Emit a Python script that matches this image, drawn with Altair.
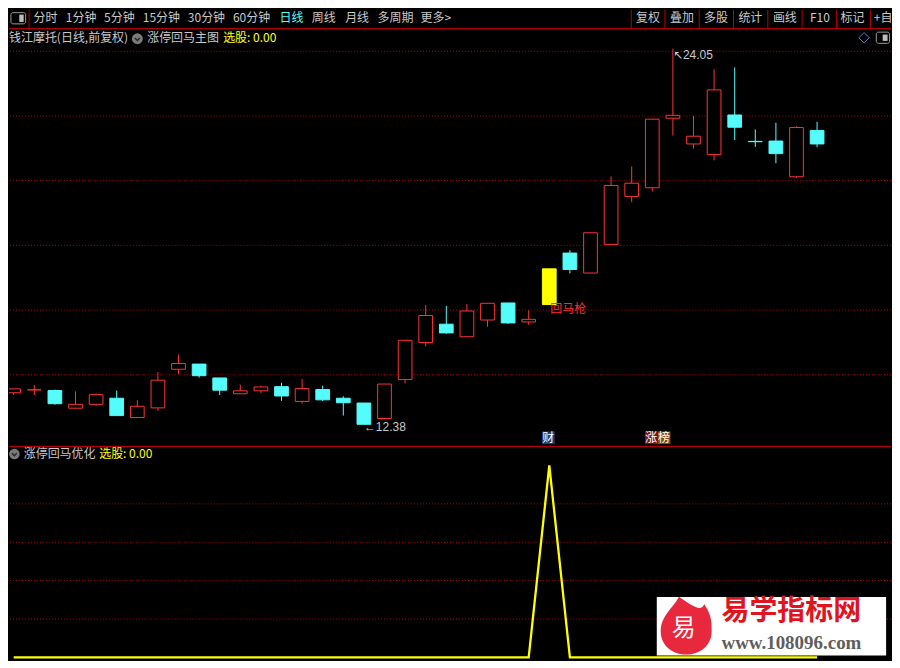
import altair as alt
import pandas as pd

# ---------------- data ----------------
opens  = [13.36, 13.45, 13.43, 12.88, 13.00, 13.19, 12.59, 12.89, 14.09, 14.25,
          13.82, 13.33, 13.42, 13.55, 13.09, 13.46, 13.19, 13.04, 12.56, 13.77,
          14.92, 15.49, 15.10, 15.62, 16.15, 15.56, 16.10, 17.70, 17.08, 17.97,
          19.46, 19.73, 21.89, 21.09, 20.76, 21.99, 21.17, 21.18, 20.07, 21.51]
highs  = [13.48, 13.60, 13.46, 13.40, 13.34, 13.43, 13.13, 14.00, 14.55, 14.25,
          13.82, 13.61, 13.58, 13.67, 13.79, 13.58, 13.25, 13.04, 13.63, 14.99,
          16.09, 16.06, 16.12, 16.14, 16.15, 15.92, 17.21, 17.79, 18.33, 20.08,
          20.39, 21.86, 24.05, 21.96, 23.41, 23.47, 21.54, 21.75, 21.64, 21.78]
lows   = [13.29, 13.29, 12.99, 12.88, 12.95, 12.65, 12.59, 12.80, 13.95, 13.83,
          13.29, 13.33, 13.35, 13.11, 13.02, 13.10, 12.65, 12.38, 12.56, 13.65,
          14.80, 15.19, 15.10, 15.41, 15.50, 15.47, 16.10, 17.07, 17.08, 17.97,
          19.28, 19.61, 21.35, 20.94, 20.58, 21.21, 21.00, 20.49, 20.03, 20.99]
closes = [13.48, 13.45, 13.02, 13.00, 13.30, 12.65, 12.94, 13.75, 14.27, 13.89,
          13.44, 13.42, 13.54, 13.26, 13.49, 13.14, 13.05, 12.38, 13.63, 14.99,
          15.76, 15.22, 15.90, 16.14, 15.53, 15.64, 17.21, 17.19, 18.33, 19.80,
          19.87, 21.86, 21.98, 21.33, 22.77, 21.61, 21.16, 20.79, 21.60, 21.09]
signal = [0, 0, 0, 0, 0, 0, 0, 0, 0, 0,
          0, 0, 0, 0, 0, 0, 0, 0, 0, 0,
          0, 0, 0, 0, 0, 0, 1, 0, 0, 0,
          0, 0, 0, 0, 0, 0, 0, 0, 0, 0]
price_grid = [23.97, 21.96, 19.95, 17.94, 15.93, 13.92]
ind_grid = [0.2, 0.4, 0.6, 0.8]

menu_labels = ["分时", "1分钟", "5分钟", "15分钟", "30分钟", "60分钟", "日线", "周线", "月线", "多周期", "更多>"]
menu_x = [25, 58, 97, 136.5, 182.5, 228.5, 276, 309, 343, 376, 420]
right_labels = ["复权", "叠加", "多股", "统计", "画线", "F10", "标记", "+自"]
right_x = [652, 686.8, 721.3, 756.5, 791.7, 827.5, 860.8, 892]
right_seps = [635, 669.3, 704.3, 739.3, 774.3, 809.3, 844.3, 879]

tag_i = [26, 31, 31]
tag_ch = ["财", "涨", "榜"]
tag_k = [0, 0, 1]
tag_bg = ["#1B3F78", "#7E1010", "#8A4A16"]

# ---------------- geometry ----------------
W, H = 884, 652
SX, SY = W / 900, H / 668
HA = round(20 * SY)
HB = round(447.5 * SY) - HA
HC = H - HA - HB
TOP_B = HA / SY
TOP_C = (HA + HB) / SY

def px(x): return x * SX
def pyA(y): return y * SY
def pyB(y): return y * SY - HA
def pyC(y): return y * SY - HA - HB

X0, STEP = 4.8, 21.02          # pixel of first candle, candle spacing (reference px)
xs = alt.Scale(domain=[(0 - X0) / STEP, (900 - X0) / STEP], nice=False, zero=False)
P_REF, P_PX, PPU = 24.05, 40.0, 33.05   # price calibration of the reference
ys = alt.Scale(domain=[P_REF - (TOP_C - P_PX) / PPU, P_REF + (P_PX - TOP_B) / PPU], nice=False, zero=False)
V_BASE, V_PPU = 665.0, 197.0
ys2 = alt.Scale(domain=[(V_BASE - 668) / V_PPU, (V_BASE - TOP_C) / V_PPU], nice=False, zero=False)
HALF = 7.0 / STEP

FONT = "Noto Sans CJK SC"
GRAY = "#C8C8C8"
RED = "#FF3232"
CYAN = "#54FCFC"
YEL = "#FFFF00"
GRID = "#B80000"
SEP = "#B40000"

one = pd.DataFrame({"z": [0]})

def txt(t, x, y, color=GRAY, size=12, align="left", font=FONT, weight="normal"):
    return alt.Chart(one).mark_text(text=t, align=align, baseline="middle", font=font,
                                    fontSize=size, fontWeight=weight, color=color, clip=True
                                    ).encode(x=alt.value(x), y=alt.value(y))

def box(x1, y1, x2, y2, fill=None, stroke=None, r=0, sw=1):
    kw = dict(cornerRadius=r)
    if fill:
        kw["fill"] = fill
    else:
        kw["fillOpacity"] = 0
    if stroke:
        kw["stroke"] = stroke
        kw["strokeWidth"] = sw
    return alt.Chart(one).mark_rect(**kw).encode(
        x=alt.value(x1), x2=alt.value(x2), y=alt.value(y1), y2=alt.value(y2))

def rule(x1, y1, x2, y2, color=SEP, sw=1):
    return alt.Chart(one).mark_rule(color=color, strokeWidth=sw).encode(
        x=alt.value(x1), x2=alt.value(x2), y=alt.value(y1), y2=alt.value(y2))

def sym(x, y, shape, size, fill=None, stroke=None, sw=1):
    kw = dict(shape=shape, size=size)
    if fill:
        kw.update(filled=True, fill=fill, opacity=1)
    else:
        kw.update(filled=False, stroke=stroke, strokeWidth=sw, opacity=1)
    return alt.Chart(one).mark_point(**kw).encode(x=alt.value(x), y=alt.value(y))

# ---------------- panel A: toolbar ----------------
menu_df = pd.DataFrame({"t": menu_labels, "x": menu_x,
                        "c": [CYAN if t == "日线" else GRAY for t in menu_labels]})
right_df = pd.DataFrame({"t": right_labels, "x": right_x})
sep_df = pd.DataFrame({"x": right_seps})
chrome_x = alt.Scale(domain=[0, 900], nice=False, zero=False)

menu = alt.Chart(menu_df).mark_text(align="left", baseline="middle", font=FONT, fontSize=12, clip=True).encode(
    x=alt.X("x:Q", scale=chrome_x, axis=None), y=alt.value(pyA(9)), text="t:N",
    color=alt.Color("c:N", scale=None))
rmenu = alt.Chart(right_df).mark_text(align="center", baseline="middle", font=FONT, fontSize=12,
                                      color=GRAY, clip=True).encode(
    x=alt.X("x:Q", scale=chrome_x, axis=None), y=alt.value(pyA(9)), text="t:N")
seps = alt.Chart(sep_df).mark_rule(color=SEP, strokeWidth=1).encode(
    x=alt.X("x:Q", scale=chrome_x, axis=None), y=alt.value(0), y2=alt.value(pyA(19)))

panelA = alt.layer(
    box(px(2), pyA(3), px(17), pyA(14.5), stroke="#9A9A9A", r=2),
    box(px(10.5), pyA(5), px(15), pyA(12.5), fill="#BEBEBE"),
    rule(px(20.5), 0, px(20.5), pyA(19)),
    rule(0, pyA(19.3), W, pyA(19.3), sw=1.2),
    menu, rmenu, seps,
).properties(width=W, height=HA)

# ---------------- panel B: candles ----------------
df = pd.DataFrame({"i": list(range(len(opens))), "o": opens, "h": highs, "l": lows, "c": closes, "s": signal})
df["kind"] = ["sig" if s == 1 else ("up" if c >= o else "down") for o, c, s in zip(opens, closes, signal)]
fill_scale = alt.Scale(domain=["up", "down", "sig"], range=["#000000", CYAN, YEL])
stroke_scale = alt.Scale(domain=["up", "down", "sig"], range=[RED, CYAN, YEL])

grid = alt.Chart(pd.DataFrame({"p": price_grid})).mark_rule(color=GRID, strokeDash=[1, 2], strokeWidth=1).encode(
    y=alt.Y("p:Q", scale=ys, axis=None))

wick = alt.Chart(df).mark_rule(strokeWidth=1, clip=True).encode(
    x=alt.X("i:Q", scale=xs, axis=None), y=alt.Y("l:Q", scale=ys, axis=None), y2="h:Q",
    stroke=alt.Stroke("kind:N", scale=stroke_scale, legend=None))
body = alt.Chart(df).transform_calculate(
    xl=f"datum.i - {HALF}", xr=f"datum.i + {HALF}"
).mark_rect(strokeWidth=1, clip=True).encode(
    x=alt.X("xl:Q", scale=xs, axis=None), x2="xr:Q",
    y=alt.Y("o:Q", scale=ys, axis=None), y2="c:Q",
    fill=alt.Fill("kind:N", scale=fill_scale, legend=None),
    stroke=alt.Stroke("kind:N", scale=stroke_scale, legend=None))

imax = highs.index(max(highs))
imin = lows.index(min(lows))
hi_lab = alt.Chart(pd.DataFrame({"i": [imax], "p": [highs[imax]], "t": ["↖" + f"{highs[imax]:.2f}"]})).mark_text(
    align="left", baseline="middle", dy=6, font="Liberation Sans, DejaVu Sans", fontSize=12, color=GRAY).encode(
    x=alt.X("i:Q", scale=xs, axis=None), y=alt.Y("p:Q", scale=ys, axis=None), text="t:N")
lo_lab = alt.Chart(pd.DataFrame({"i": [imin], "p": [lows[imin]], "t": ["←" + f"{lows[imin]:.2f}"]})).mark_text(
    align="left", baseline="middle", dy=3, font="Liberation Sans, DejaVu Sans", fontSize=12, color=GRAY).encode(
    x=alt.X("i:Q", scale=xs, axis=None), y=alt.Y("p:Q", scale=ys, axis=None), text="t:N")

sig_i = signal.index(1)
sig_lab = alt.Chart(pd.DataFrame({"i": [sig_i], "p": [opens[sig_i]], "t": ["回马枪"]})).mark_text(
    align="left", baseline="top", dx=1, dy=-1, font=FONT, fontSize=12, color="#FF2A2A").encode(
    x=alt.X("i:Q", scale=xs, axis=None), y=alt.Y("p:Q", scale=ys, axis=None), text="t:N")

tag_df = pd.DataFrame({"i": tag_i, "ch": tag_ch, "k": tag_k, "bg": tag_bg})
tag_calc = dict(tx1=f"datum.i - {7.5 / STEP} + datum.k * {13 / STEP}",
                tx2=f"datum.i - {7.5 / STEP} + datum.k * {13 / STEP} + {13 / STEP}",
                tc=f"datum.i - {7.5 / STEP} + datum.k * {13 / STEP} + {6.5 / STEP}")
tag_box = alt.Chart(tag_df).transform_calculate(**tag_calc).mark_rect().encode(
    x=alt.X("tx1:Q", scale=xs, axis=None), x2="tx2:Q",
    y=alt.value(pyB(433)), y2=alt.value(pyB(446)), fill=alt.Fill("bg:N", scale=None))
tag_txt = alt.Chart(tag_df).transform_calculate(**tag_calc).mark_text(
    align="center", baseline="middle", font=FONT, fontSize=12, color="#FFFFFF").encode(
    x=alt.X("tc:Q", scale=xs, axis=None), y=alt.value(pyB(439.5)), text="ch:N")

sel_txt = f"选股: {signal[-1]:.2f}"
chev = "M-0.5,-0.15 L0,0.35 L0.5,-0.15"

panelB = alt.layer(
    grid,
    txt("钱江摩托(日线,前复权)", px(0), pyB(29.5)),
    sym(px(131), pyB(29.8), "circle", 120, fill="#7A7A7A"),
    sym(px(131), pyB(29.8), chev, 100, stroke="#262626", sw=1.5),
    txt("涨停回马主图", px(141), pyB(29.5)),
    txt(sel_txt, px(218.5), pyB(29.5), color=YEL),
    sym(px(872.5), pyB(28.8), "diamond", 110, stroke="#5B7DB8"),
    box(px(885), pyB(23), px(898.5), pyB(34.5), stroke="#9A9A9A", r=2),
    box(px(891.5), pyB(25.5), px(896.5), pyB(32), fill="#BEBEBE"),
    wick, body, hi_lab, lo_lab, sig_lab, tag_box, tag_txt,
).properties(width=W, height=HB)

# ---------------- panel C: indicator ----------------
grid2 = alt.Chart(pd.DataFrame({"v": ind_grid})).mark_rule(color=GRID, strokeDash=[1, 2], strokeWidth=1).encode(
    y=alt.Y("v:Q", scale=ys2, axis=None))
ind_line = alt.Chart(df).mark_line(color=YEL, strokeWidth=2.3, clip=True).encode(
    x=alt.X("i:Q", scale=xs, axis=None), y=alt.Y("s:Q", scale=ys2, axis=None))

flame = ("M-0.25,-1 C0.3,-0.6 0.55,-0.5 0.62,-0.75 C0.9,-0.35 0.88,-0.05 0.88,0.2 "
         "C0.88,0.7 0.45,1 0,1 C-0.45,1 -0.88,0.7 -0.88,0.2 C-0.88,-0.35 -0.45,-0.6 -0.25,-1 Z")
fs = (59 * SX) ** 2

panelC = alt.layer(
    rule(0, 0.6, W, 0.6, sw=1.2),
    grid2,
    sym(px(5.5), pyC(456.2), "circle", 110, fill="#7A7A7A"),
    sym(px(5.5), pyC(456.2), chev, 90, stroke="#262626", sw=1.5),
    txt("涨停回马优化", px(15), pyC(456.5)),
    txt(sel_txt, px(92), pyC(456.5), color=YEL),
    ind_line,
    box(px(661), pyC(603), px(895), pyC(663), fill="#FFFFFF"),
    sym(px(691), pyC(632.5), flame, fs, fill="#E8283C"),
    txt("易", px(688.5), pyC(636), color="#FFFFFF", size=24, align="center"),
    txt("易学指标网", px(727), pyC(618.5), color="#E0141E", size=28, weight="bold"),
    txt("www.108096.com", px(727), pyC(650), color="#5E5E5E", size=19, weight="bold",
        font="Liberation Serif, DejaVu Serif"),
).properties(width=W, height=HC)

chart = alt.vconcat(panelA, panelB, panelC, spacing=0, bounds="flush").properties(
    padding=0, background="#000000"
).configure_view(stroke=None, fill="#000000")

chart.save("out.html", embed_options={"renderer": "svg", "actions": False})
